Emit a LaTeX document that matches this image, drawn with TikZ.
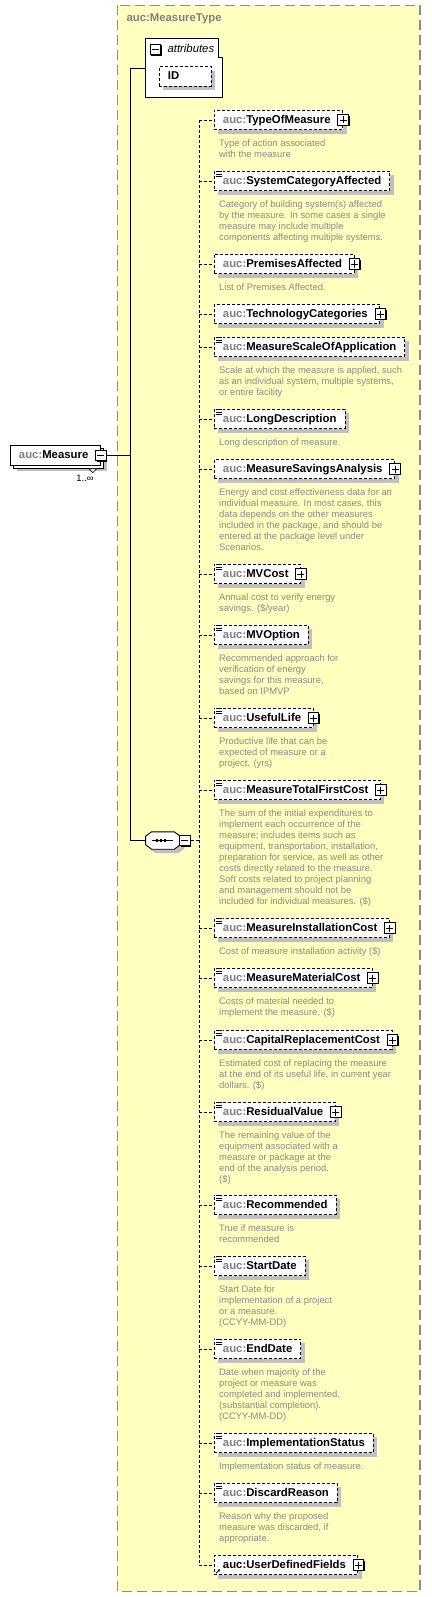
\documentclass[tikz,border=0pt]{standalone}
\usepackage{fontspec}
\setmainfont{Liberation Sans}
\usetikzlibrary{arrows.meta, positioning, calc, shadows}
\definecolor{xsdyellow}{HTML}{FFFFC0}
\definecolor{xsdgray}{HTML}{808080}
\definecolor{xsdframe}{HTML}{8C8C8C}
\definecolor{xsdshadow}{HTML}{C0C0C0}
\definecolor{xsddesc}{HTML}{8A8A8A}
\newcommand{\pfx}{\textcolor{xsdgray}{auc:}}
\newcommand{\tgl}{\kern3.5pt}

\tikzset{
  elembase/.style={draw, line width=0.9pt, fill=white, anchor=west,
    minimum height=19.5pt, inner xsep=8.5pt, inner ysep=0pt,
    text height=8.3pt, text depth=2.2pt,
    font=\fontsize{11.35}{13}\selectfont\bfseries},
  elem/.style={elembase, dash pattern=on 3pt off 2pt,
    drop shadow={shadow xshift=4pt, shadow yshift=-4pt, fill=xsdshadow, opacity=1}},
  measurebox/.style={elembase,
    drop shadow={shadow xshift=7pt, shadow yshift=-6pt, fill=xsdshadow, opacity=1},
    copy shadow={shadow xshift=3pt, shadow yshift=-3pt, fill=white, draw=black,
      line width=0.9pt, opacity=1}},
  desc/.style={inner sep=0pt, align=left, text=xsddesc,
    font=\fontsize{9.4}{11}\selectfont},
  togglebox/.style={draw, line width=0.9pt, fill=white, minimum size=10.5pt,
    inner sep=0pt,
    drop shadow={shadow xshift=1.2pt, shadow yshift=-1.2pt, fill=black, opacity=1}},
  plusbox/.style={togglebox,
    path picture={\draw[line width=0.9pt]
      ([xshift=-3.5pt]path picture bounding box.center) -- ++(7pt,0pt)
      ([yshift=-3.5pt]path picture bounding box.center) -- ++(0pt,7pt);}},
  minusbox/.style={togglebox,
    path picture={\draw[line width=0.9pt]
      ([xshift=-3.5pt]path picture bounding box.center) -- ++(7pt,0pt);}},
  simpleicon/.style={anchor=north west, xshift=0.5pt, yshift=0.8pt,
    fill=white, minimum width=8pt, minimum height=7.5pt, inner sep=0pt,
    path picture={\foreach \k in {1.4,3.8,6.1}
      \draw[line width=0.8pt] ([xshift=1pt, yshift=-\k pt]path picture bounding box.north west) -- ++(6pt,0pt);}},
  link/.style={line width=0.9pt},
  seqlink/.style={line width=0.9pt, dash pattern=on 3pt off 2pt},
}

\begin{document}
\begin{tikzpicture}[x=1pt, y=-1pt]
  \useasboundingbox (0,0) rectangle (431,1597);

  % complex type frame
  \draw[xsdframe, line width=1.4pt, dash pattern=on 10pt off 5pt, fill=xsdyellow]
    (117.5,5.5) rectangle (420,1591.5);
  \node[anchor=west, text=xsdgray, font=\fontsize{11.35}{13}\selectfont\bfseries]
    (title) at (123,19) {auc:MeasureType};

  % root element
  \node[measurebox] (measure) at (10,455.5) {\pfx Measure\tgl};
  \node[minusbox] (measureminus) at (measure.east) {};
  \draw[fill=white, line width=0.7pt] ([xshift=-12pt, yshift=-3pt]measure.south east)
    -- ++(8pt,0pt) -- ++(-4pt,-4pt) -- cycle;
  \node[font=\fontsize{9.4}{11}\selectfont] (measureocc) at (85,478) {1..∞};

  % attributes
  \draw[link, fill=white] (145.5,38) -- (218,38) -- (218,57) -- (222.5,57)
    -- (222.5,97) -- (145.5,97) -- cycle;
  \coordinate (attr) at (145.5,68);
  \node[minusbox] (attrminus) at (155.5,49.5) {};
  \node[anchor=west, font=\fontsize{11.35}{13}\selectfont\itshape]
    (attrlabel) at (164,48) {attributes};
  \node[elem, minimum width=52pt, text width=35pt, align=left] (id) at (159,76.5) {ID};

  % sequence
  \node[minimum width=34.3pt, minimum height=17pt, inner sep=0pt] (seq) at (162.9,840.5) {};
  \draw[link, fill=white,
    drop shadow={shadow xshift=4pt, shadow yshift=-4pt, fill=xsdshadow, opacity=1}]
    ([xshift=6pt]seq.north west) -- ([xshift=-6pt]seq.north east)
    -- ([yshift=-4.5pt]seq.north east) -- ([yshift=4.5pt]seq.south east)
    -- ([xshift=-6pt]seq.south east) -- ([xshift=6pt]seq.south west)
    -- ([yshift=4.5pt]seq.south west) -- ([yshift=-4.5pt]seq.north west) -- cycle;
  \draw[line width=1pt] ([xshift=-11.2pt]seq.center) -- ([xshift=9.8pt]seq.center);
  \foreach \dx in {-5.9,-1.9,2.1}
    \fill ([xshift=\dx pt]seq.center) +(-1.3pt,-1.3pt) rectangle +(1.3pt,1.3pt);
  \node[minusbox, right=-1pt of seq] (seqminus) {};

  % child elements
  \node[elem] (tom) at (214,120) {\pfx TypeOfMeasure\tgl};
  \node[plusbox] (tomplus) at (tom.east) {};
  \node[desc, below right=9pt and 5pt of tom.south west] (tomdesc)
    {Type of action associated\\with the measure};

  \node[elem] (sca) at (214,181) {\pfx SystemCategoryAffected};
  \node[simpleicon] (scaicon) at (sca.north west) {};
  \node[desc, below right=9pt and 5pt of sca.south west] (scadesc)
    {Category of building system(s) affected\\by the measure. In some cases a single\\measure may include multiple\\components affecting multiple systems.};

  \node[elem] (pa) at (214,264) {\pfx PremisesAffected\tgl};
  \node[plusbox] (paplus) at (pa.east) {};
  \node[desc, below right=9pt and 5pt of pa.south west] (padesc)
    {List of Premises Affected.};

  \node[elem] (tc) at (214,314) {\pfx TechnologyCategories\tgl};
  \node[plusbox] (tcplus) at (tc.east) {};

  \node[elem] (msoa) at (214,347) {\pfx MeasureScaleOfApplication};
  \node[simpleicon] (msoaicon) at (msoa.north west) {};
  \node[desc, below right=9pt and 5pt of msoa.south west] (msoadesc)
    {Scale at which the measure is applied, such\\as an individual system, multiple systems,\\or entire facility};

  \node[elem] (ld) at (214,419) {\pfx LongDescription};
  \node[simpleicon] (ldicon) at (ld.north west) {};
  \node[desc, below right=9pt and 5pt of ld.south west] (lddesc)
    {Long description of measure.};

  \node[elem] (msa) at (214,469) {\pfx MeasureSavingsAnalysis\tgl};
  \node[plusbox] (msaplus) at (msa.east) {};
  \node[desc, below right=9pt and 5pt of msa.south west] (msadesc)
    {Energy and cost effectiveness data for an\\individual measure. In most cases, this\\data depends on the other measures\\included in the package, and should be\\entered at the package level under\\Scenarios.};

  \node[elem] (mvc) at (214,574) {\pfx MVCost\tgl};
  \node[simpleicon] (mvcicon) at (mvc.north west) {};
  \node[plusbox] (mvcplus) at (mvc.east) {};
  \node[desc, below right=9pt and 5pt of mvc.south west] (mvcdesc)
    {Annual cost to verify energy\\savings. (\$/year)};

  \node[elem] (mvo) at (214,635) {\pfx MVOption};
  \node[simpleicon] (mvoicon) at (mvo.north west) {};
  \node[desc, below right=9pt and 5pt of mvo.south west] (mvodesc)
    {Recommended approach for\\verification of energy\\savings for this measure,\\based on IPMVP};

  \node[elem] (ul) at (214,718) {\pfx UsefulLife\tgl};
  \node[simpleicon] (ulicon) at (ul.north west) {};
  \node[plusbox] (ulplus) at (ul.east) {};
  \node[desc, below right=9pt and 5pt of ul.south west] (uldesc)
    {Productive life that can be\\expected of measure or a\\project. (yrs)};

  \node[elem] (mtfc) at (214,790) {\pfx MeasureTotalFirstCost\tgl};
  \node[simpleicon] (mtfcicon) at (mtfc.north west) {};
  \node[plusbox] (mtfcplus) at (mtfc.east) {};
  \node[desc, below right=9pt and 5pt of mtfc.south west] (mtfcdesc)
    {The sum of the initial expenditures to\\implement each occurrence of the\\measure; includes items such as\\equipment, transportation, installation,\\preparation for service, as well as other\\costs directly related to the measure.\\Soft costs related to project planning\\and management should not be\\included for individual measures. (\$)};

  \node[elem] (mic) at (214,928) {\pfx MeasureInstallationCost\tgl};
  \node[simpleicon] (micicon) at (mic.north west) {};
  \node[plusbox] (micplus) at (mic.east) {};
  \node[desc, below right=9pt and 5pt of mic.south west] (micdesc)
    {Cost of measure installation activity (\$)};

  \node[elem] (mmc) at (214,978) {\pfx MeasureMaterialCost\tgl};
  \node[simpleicon] (mmcicon) at (mmc.north west) {};
  \node[plusbox] (mmcplus) at (mmc.east) {};
  \node[desc, below right=9pt and 5pt of mmc.south west] (mmcdesc)
    {Costs of material needed to\\implement the measure. (\$)};

  \node[elem] (crc) at (214,1040) {\pfx CapitalReplacementCost\tgl};
  \node[simpleicon] (crcicon) at (crc.north west) {};
  \node[plusbox] (crcplus) at (crc.east) {};
  \node[desc, below right=9pt and 5pt of crc.south west] (crcdesc)
    {Estimated cost of replacing the measure\\at the end of its useful life, in current year\\dollars. (\$)};

  \node[elem] (rv) at (214,1112) {\pfx ResidualValue\tgl};
  \node[simpleicon] (rvicon) at (rv.north west) {};
  \node[plusbox] (rvplus) at (rv.east) {};
  \node[desc, below right=9pt and 5pt of rv.south west] (rvdesc)
    {The remaining value of the\\equipment associated with a\\measure or package at the\\end of the analysis period.\\(\$)};

  \node[elem] (rec) at (214,1205) {\pfx Recommended};
  \node[simpleicon] (recicon) at (rec.north west) {};
  \node[desc, below right=9pt and 5pt of rec.south west] (recdesc)
    {True if measure is\\recommended};

  \node[elem] (sd) at (214,1266) {\pfx StartDate};
  \node[simpleicon] (sdicon) at (sd.north west) {};
  \node[desc, below right=9pt and 5pt of sd.south west] (sddesc)
    {Start Date for\\implementation of a project\\or a measure.\\(CCYY-MM-DD)};

  \node[elem] (ed) at (214,1349) {\pfx EndDate};
  \node[simpleicon] (edicon) at (ed.north west) {};
  \node[desc, below right=9pt and 5pt of ed.south west] (eddesc)
    {Date when majority of the\\project or measure was\\completed and implemented.\\(substantial completion).\\(CCYY-MM-DD)};

  \node[elem] (is) at (214,1443) {\pfx ImplementationStatus};
  \node[simpleicon] (isicon) at (is.north west) {};
  \node[desc, below right=9pt and 5pt of is.south west] (isdesc)
    {Implementation status of measure.};

  \node[elem] (dr) at (214,1493) {\pfx DiscardReason};
  \node[simpleicon] (dricon) at (dr.north west) {};
  \node[desc, below right=9pt and 5pt of dr.south west] (drdesc)
    {Reason why the proposed\\measure was discarded, if\\appropriate.};

  \node[elem] (udf) at (214,1565) {auc:UserDefinedFields\tgl};
  \node[plusbox] (udfplus) at (udf.east) {};
  \draw[-{Stealth[length=2.5pt, width=2.5pt]}, line width=0.9pt]
    ([xshift=2pt, yshift=2pt]udf.south west) -- ++(4pt,4pt);

  % connectors
  \coordinate (trunk) at (130,0);
  \draw[link] (measureminus.east) -- (trunk |- measureminus.east);
  \draw[link] (attr) -- (trunk |- attr) -- (trunk |- seq.west) -- (seq.west);
  \coordinate (spine) at (199,0);
  \draw[seqlink] (seqminus.east) -- (spine |- seqminus.east);
  \draw[seqlink] (spine |- tom.west) -- (spine |- udf.west);
  \foreach \e in {tom,sca,pa,tc,msoa,ld,msa,mvc,mvo,ul,mtfc,mic,mmc,crc,rv,rec,sd,ed,is,dr,udf}
    \draw[seqlink] (spine |- \e.west) -- (\e.west);
\end{tikzpicture}
\end{document}
